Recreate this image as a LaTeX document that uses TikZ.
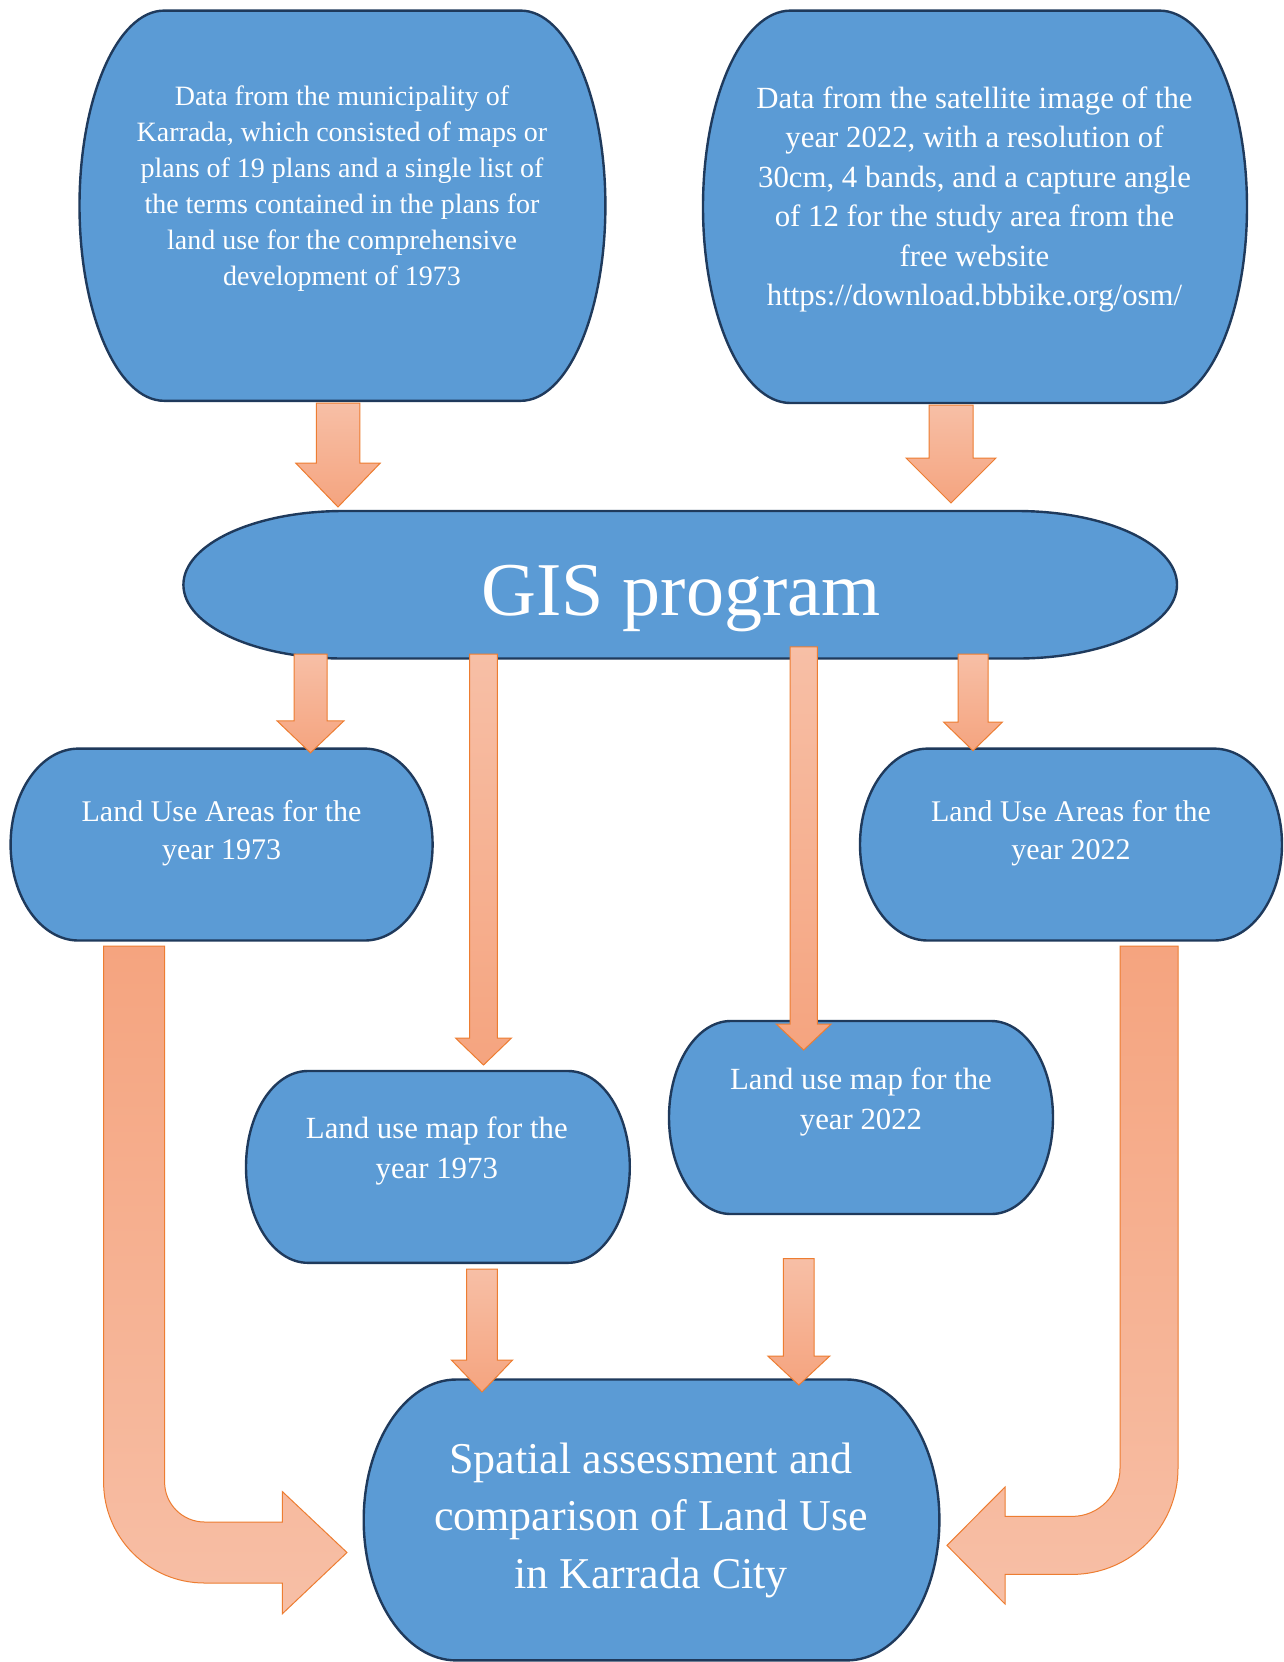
\documentclass[tikz,border=0pt]{standalone}
\usepackage{fontspec}
\setmainfont{Liberation Serif}
\definecolor{boxfill}{HTML}{5B9BD5}
\definecolor{boxline}{HTML}{1F3A5C}
\definecolor{arrline}{HTML}{ED7D31}
\definecolor{arrlight}{HTML}{F7BFA6}
\definecolor{arrdark}{HTML}{F5A47F}
\tikzset{
  termstyle/.style={fill=boxfill, draw=boxline, line width=1.2pt},
  arrowstyle/.style={draw=arrline, line width=0.5pt, top color=arrlight, bottom color=arrdark},
  bentstyle/.style={draw=arrline, line width=0.5pt, top color=arrdark, bottom color=arrlight},
  txt/.style={text=white, align=center, inner sep=0pt},
}
% terminator box: name, left, top, right, bottom (pixels, y downwards)
\newcommand\termbox[5]{%
  \pgfmathsetmacro\tbL{#2}\pgfmathsetmacro\tbT{#3}%
  \pgfmathsetmacro\tbR{#4}\pgfmathsetmacro\tbB{#5}%
  \pgfmathsetmacro\tbrx{0.1609*(\tbR-\tbL)}%
  \pgfmathsetmacro\tbM{(\tbT+\tbB)/2}%
  \pgfmathsetmacro\tbhh{(\tbB-\tbT)/2}%
  \pgfmathsetmacro\tbkx{0.5523*\tbrx}%
  \pgfmathsetmacro\tbky{0.5523*\tbhh}%
  \draw[termstyle] ({\tbL+\tbrx},\tbT) -- ({\tbR-\tbrx},\tbT)
    .. controls ({\tbR-\tbrx+\tbkx},\tbT) and (\tbR,{\tbM-\tbky}) .. (\tbR,\tbM)
    .. controls (\tbR,{\tbM+\tbky}) and ({\tbR-\tbrx+\tbkx},\tbB) .. ({\tbR-\tbrx},\tbB)
    -- ({\tbL+\tbrx},\tbB)
    .. controls ({\tbL+\tbrx-\tbkx},\tbB) and (\tbL,{\tbM+\tbky}) .. (\tbL,\tbM)
    .. controls (\tbL,{\tbM-\tbky}) and ({\tbL+\tbrx-\tbkx},\tbT) .. cycle;
  \coordinate (#1) at ({(\tbL+\tbR)/2},\tbM);
}
% block arrow pointing down: cx, top, tip, shaft half width, head half width, head length
\newcommand\blockdown[6]{%
  \pgfmathsetmacro\bdA{#1-#4}\pgfmathsetmacro\bdB{#1+#4}%
  \pgfmathsetmacro\bdC{#1-#5}\pgfmathsetmacro\bdD{#1+#5}%
  \pgfmathsetmacro\bdE{#3-#6}%
  \draw[arrowstyle] (\bdA,#2) -- (\bdB,#2) -- (\bdB,\bdE) -- (\bdD,\bdE) -- (#1,#3)
    -- (\bdC,\bdE) -- (\bdA,\bdE) -- cycle;
}
\begin{document}
\begin{tikzpicture}[x=0.5pt, y=-0.5pt]
\useasboundingbox (0,0) rectangle (1284,1662);
\fill[white] (0,0) rectangle (1284,1662);

% boxes
\termbox{A}{79.5}{10.6}{605.4}{400.8}
\termbox{B}{703}{10.6}{1247}{403}
\termbox{GIS}{183.4}{511}{1177}{658.5}
\termbox{LUA73}{10.6}{748.6}{432.6}{940.5}
\termbox{LUA22}{860}{748.6}{1282}{940.5}
\termbox{LUM73}{246}{1071}{629.8}{1262.8}
\termbox{LUM22}{669}{1021}{1053}{1214}
\termbox{FIN}{363.7}{1379.5}{939.4}{1660.4}

% texts
\node[txt, font=\fontsize{14}{18}\selectfont] (Atext) at (342,188.7)
  {Data from the municipality of\\Karrada, which consisted of maps or\\plans of 19 plans and a single list of\\the terms contained in the plans for\\land use for the comprehensive\\development of 1973};
\node[txt, font=\fontsize{15.4}{19.7}\selectfont] (Btext) at (974.5,199.5)
  {Data from the satellite image of the\\year 2022, with a resolution of\\30cm, 4 bands, and a capture angle\\of 12 for the study area from the\\free website\\https://download.bbbike.org/osm/};
\node[txt, font=\fontsize{38}{44}\selectfont, anchor=base] (GIStext) at (681,615) {GIS program};
\node[txt, font=\fontsize{15}{19}\selectfont] (LUA73text) at (221.6,833.2) {Land Use Areas for the\\year 1973};
\node[txt, font=\fontsize{15}{19}\selectfont] (LUA22text) at (1071,833.2) {Land Use Areas for the\\year 2022};
\node[txt, font=\fontsize{15.4}{20}\selectfont] (LUM73text) at (436.8,1151.2) {Land use map for the\\year 1973};
\node[txt, font=\fontsize{15.4}{20}\selectfont] (LUM22text) at (861,1102.2) {Land use map for the\\year 2022};
\node[txt, font=\fontsize{22}{28.75}\selectfont] (FINtext) at (651,1520.2)
  {Spatial assessment and\\comparison of Land Use\\in Karrada City};

% straight block arrows
\blockdown{338}{403}{507}{21.75}{42.3}{44}
\blockdown{951}{405}{503}{22}{45}{45}
\blockdown{310.5}{654}{752.8}{16.5}{33.5}{32}
\blockdown{483.5}{654}{1065}{13.8}{28}{27}
\blockdown{973}{654}{750.7}{15}{29.5}{28.7}
\blockdown{803.7}{646.8}{1050}{13.7}{27.5}{26}
\blockdown{482}{1269}{1392}{15.4}{30.6}{32}
\blockdown{798.8}{1258.5}{1385}{15.4}{31}{29}

% bent arrow left (Land Use Areas 1973 -> final)
\draw[bentstyle] (103.6,946) -- (164.6,946) -- (164.6,1482)
  .. controls (164.6,1504.1) and (182.5,1522) .. (204.6,1522)
  -- (282.4,1522) -- (282.4,1491.6) -- (347,1552.5) -- (282.4,1613.7) -- (282.4,1583)
  -- (204.6,1583)
  .. controls (148.8,1583) and (103.6,1537.8) .. (103.6,1482) -- cycle;

% bent arrow right (Land Use Areas 2022 -> final)
\draw[bentstyle] (1120,946) -- (1178,946) -- (1178,1468.4)
  .. controls (1178,1526.9) and (1130.5,1574.4) .. (1072,1574.4)
  -- (1005,1574.4) -- (1005,1604) -- (947,1545.4) -- (1005,1487) -- (1005,1516.4)
  -- (1072,1516.4)
  .. controls (1098.5,1516.4) and (1120,1494.9) .. (1120,1468.4) -- cycle;
\end{tikzpicture}
\end{document}
